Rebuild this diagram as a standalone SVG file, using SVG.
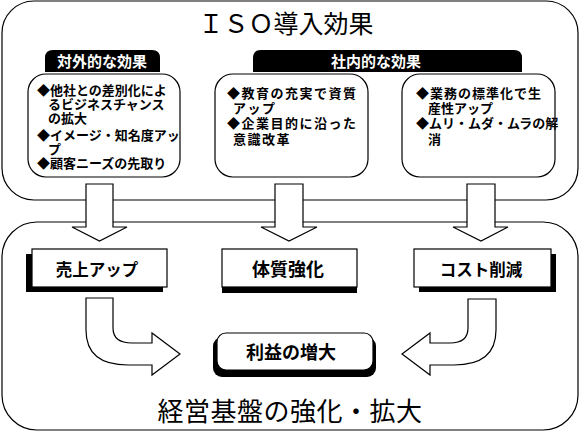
<svg xmlns="http://www.w3.org/2000/svg" width="580" height="432" viewBox="0 0 580 432">
<style>
.ln{fill:#fff;stroke:#000;stroke-width:1.2}
.blk{fill:#000}
.t{font-family:"Noto Sans CJK JP","Liberation Sans",sans-serif;fill:#000}
.sm{font-size:13px;font-weight:bold}
.lbl{font-size:16.5px;font-weight:bold;text-anchor:middle}
.lbl2{font-size:18px;font-weight:bold;text-anchor:middle}
.tab{font-size:15px;font-weight:bold;fill:#fff;text-anchor:middle}
</style>
<rect width="580" height="432" fill="#fff"/>
<g id="top-frame">
<rect class="ln" x="2" y="1" width="576" height="199" rx="32"/>
<text class="t" x="286" y="33" font-size="25" text-anchor="middle">ＩＳＯ導入効果</text>
</g>
<g id="bottom-frame">
<rect class="ln" x="2" y="222" width="576" height="208" rx="35"/>
<text class="t" x="290" y="421" font-size="26" text-anchor="middle" letter-spacing="0.5">経営基盤の強化・拡大</text>
</g>
<g id="tab-external">
<path class="blk" d="M45,72 L45,58 Q45,50 53,50 L152,50 Q160,50 160,58 L160,72 Z"/>
<text class="t tab" x="102" y="67">対外的な効果</text>
</g>
<g id="tab-internal">
<path class="blk" d="M253,72 L253,58 Q253,50 261,50 L514,50 Q522,50 522,58 L522,72 Z"/>
<text class="t tab" x="376" y="67">社内的な効果</text>
</g>
<g id="box-external">
<rect class="ln" x="28" y="74" width="152" height="103" rx="18"/>
<text class="t sm" x="37" y="95">◆他社との差別化によ</text>
<text class="t sm" x="48" y="109">るビジネスチャンス</text>
<text class="t sm" x="48" y="123">の拡大</text>
<text class="t sm" x="37" y="140">◆イメージ・知名度アッ</text>
<text class="t sm" x="48" y="154">プ</text>
<text class="t sm" x="37" y="168">◆顧客ニーズの先取り</text>
</g>
<g id="box-internal-1">
<rect class="ln" x="215" y="74" width="153" height="103" rx="18"/>
<text class="t sm" x="227" y="98" letter-spacing="1.5">◆教育の充実で資質</text>
<text class="t sm" x="233" y="113" letter-spacing="1.5">アップ</text>
<text class="t sm" x="227" y="128" letter-spacing="1.5">◆企業目的に沿った</text>
<text class="t sm" x="233" y="144" letter-spacing="1.5">意識改革</text>
</g>
<g id="box-internal-2">
<rect class="ln" x="402" y="74" width="153" height="103" rx="18"/>
<text class="t sm" x="416" y="98" letter-spacing="1">◆業務の標準化で生</text>
<text class="t sm" x="428" y="113">産性アップ</text>
<text class="t sm" x="416" y="128">◆ムリ・ムダ・ムラの解</text>
<text class="t sm" x="428" y="144">消</text>
</g>
<g id="connectors">
<polygon class="ln" points="86,184 113,184 113,227 127,227 99.5,241 72,227 86,227"/>
<polygon class="ln" points="275,184 303,184 303,227 317,227 289,241 261,227 275,227"/>
<polygon class="ln" points="467,184 495,184 495,227 508,227 481,241 453,227 467,227"/>
<path class="ln" d="M86,298 L86,330 Q86,365 128,365 L152,365 L152,375 L180,354 L152,333 L152,343 L132,343 Q113,343 113,328 L113,298 Z"/>
<path class="ln" d="M496,299 L496,330 Q496,365 454,365 L430,365 L430,375 L402,354 L430,333 L430,343 L450,343 Q468,343 468,328 L468,299 Z"/>
</g>
<g id="node-sales">
<rect class="blk" x="26" y="254" width="137" height="38"/>
<rect class="ln" x="32" y="249" width="135" height="38"/>
<text class="t lbl" x="97" y="276">売上アップ</text>
</g>
<g id="node-structure">
<rect class="blk" x="222" y="254" width="135" height="39"/>
<rect class="ln" x="222" y="249" width="135" height="38"/>
<text class="t lbl2" x="288" y="276">体質強化</text>
</g>
<g id="node-cost">
<rect class="blk" x="419" y="254" width="137" height="38"/>
<rect class="ln" x="414" y="249" width="137" height="38"/>
<text class="t lbl" x="481" y="276">コスト削減</text>
</g>
<g id="node-profit">
<rect class="blk" x="213" y="337" width="163" height="40" rx="9"/>
<rect class="ln" x="217" y="333" width="156" height="37" rx="9"/>
<text class="t lbl2" x="291" y="359">利益の増大</text>
</g>
</svg>
